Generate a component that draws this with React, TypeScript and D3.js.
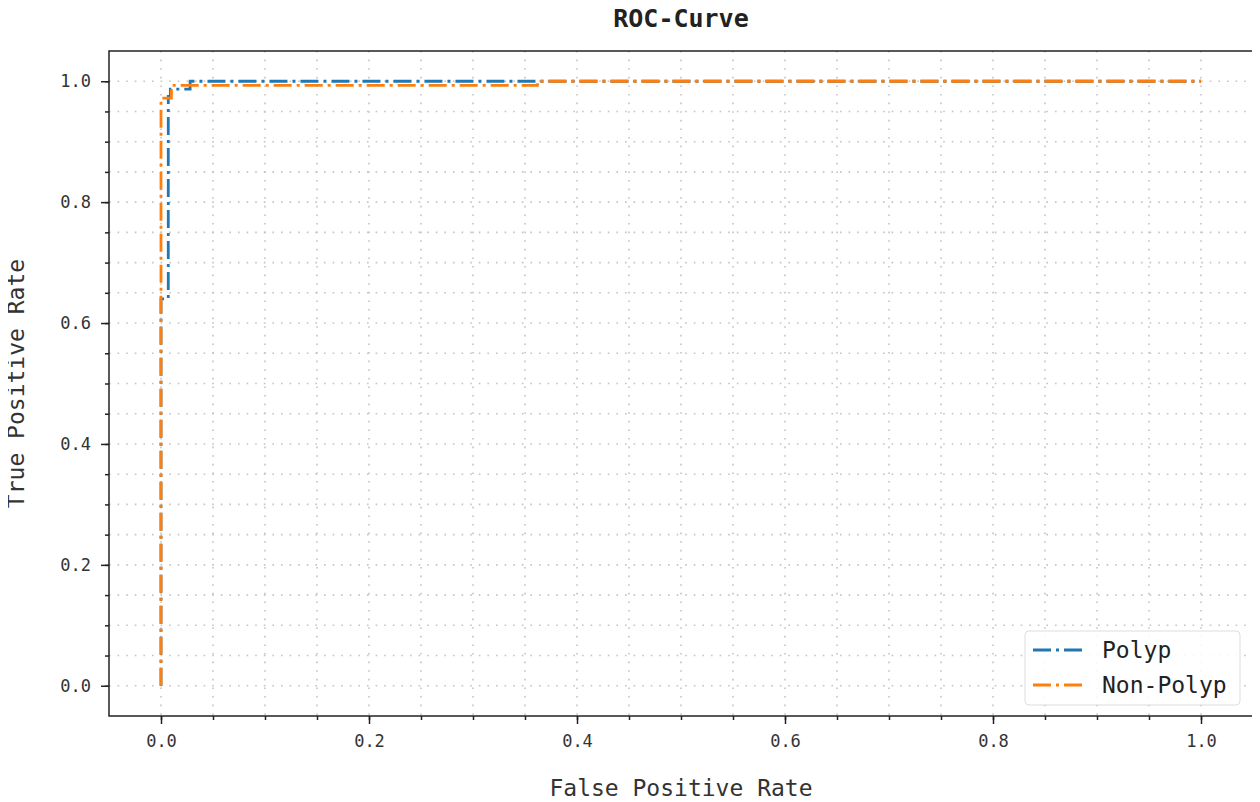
import React, { useEffect, useRef } from 'react';
import * as d3 from 'd3';

// ROC points
const polypFpr = [0, 0, 0.007, 0.007, 0.009, 0.009, 0.028, 0.028, 1];
const polypTpr = [0, 0.64, 0.64, 0.975, 0.975, 0.987, 0.987, 1, 1];
const nonPolypFpr = [0, 0, 0.01, 0.01, 0.362, 0.362, 1];
const nonPolypTpr = [0, 0.972, 0.972, 0.993, 0.993, 1, 1];

const majorTicks = [0, 0.2, 0.4, 0.6, 0.8, 1.0];
const minorTicks = d3.range(0, 1.001, 0.05).map(v => +v.toFixed(2));

const seriesNames = ['Polyp', 'Non-Polyp'];
const seriesColors = ['#1f77b4', '#ff7f0e'];

const FONT = '"DejaVu Sans Mono", "Liberation Mono", monospace';

const App = () => {
  const ref = useRef<SVGSVGElement>(null);

  useEffect(() => {
    const svg = d3.select(ref.current);
    svg.selectAll('*').remove();

    const W = 1260, H = 802;
    const box = { left: 109, right: 1253, top: 51, bottom: 716 };

    const x = d3.scaleLinear().domain([-0.05, 1.05]).range([box.left, box.right]);
    const y = d3.scaleLinear().domain([-0.05, 1.05]).range([box.bottom, box.top]);

    svg.attr('width', W).attr('height', H);
    svg.append('rect').attr('width', W).attr('height', H).attr('fill', '#fff');

    // grid (major + minor, dotted)
    const grid = svg.append('g')
      .attr('stroke', '#c4c4c4')
      .attr('stroke-width', 1.6)
      .attr('stroke-dasharray', '1.6,7');
    minorTicks.forEach(v => {
      grid.append('line').attr('x1', x(v)).attr('x2', x(v)).attr('y1', box.top).attr('y2', box.bottom);
      grid.append('line').attr('y1', y(v)).attr('y2', y(v)).attr('x1', box.left).attr('x2', box.right);
    });

    // curves
    const line = d3.line<[number, number]>().x(d => x(d[0])).y(d => y(d[1]));
    const series = [
      d3.zip(polypFpr, polypTpr) as [number, number][],
      d3.zip(nonPolypFpr, nonPolypTpr) as [number, number][],
    ];
    series.forEach((pts, i) => {
      svg.append('path')
        .attr('d', line(pts))
        .attr('fill', 'none')
        .attr('stroke', seriesColors[i])
        .attr('stroke-width', 2.8)
        .attr('stroke-dasharray', '18,5,3,5');
    });

    // axes: minor ticks, then major ticks with labels
    const xMin = svg.append('g').attr('transform', `translate(0,${box.bottom})`)
      .call(d3.axisBottom(x).tickValues(minorTicks).tickSize(4).tickFormat(() => ''));
    xMin.select('.domain').remove();
    const xMaj = svg.append('g').attr('transform', `translate(0,${box.bottom})`)
      .call(d3.axisBottom(x).tickValues(majorTicks).tickSize(8).tickPadding(11).tickFormat(d3.format('.1f')));
    xMaj.select('.domain').remove();

    const yMin = svg.append('g').attr('transform', `translate(${box.left},0)`)
      .call(d3.axisLeft(y).tickValues(minorTicks).tickSize(4).tickFormat(() => ''));
    yMin.select('.domain').remove();
    const yMaj = svg.append('g').attr('transform', `translate(${box.left},0)`)
      .call(d3.axisLeft(y).tickValues(majorTicks).tickSize(8).tickPadding(10).tickFormat(d3.format('.1f')));
    yMaj.select('.domain').remove();

    svg.selectAll('.tick line').attr('stroke', '#222').attr('stroke-width', 1.5);
    svg.selectAll('.tick text')
      .attr('font-family', FONT)
      .attr('font-size', 17)
      .attr('fill', '#333');

    // frame
    svg.append('rect')
      .attr('x', box.left).attr('y', box.top)
      .attr('width', box.right - box.left).attr('height', box.bottom - box.top)
      .attr('fill', 'none').attr('stroke', '#222').attr('stroke-width', 1.5);

    // titles
    svg.append('text')
      .attr('x', (box.left + box.right) / 2).attr('y', 27)
      .attr('text-anchor', 'middle')
      .attr('font-family', FONT).attr('font-size', 25).attr('font-weight', 'bold')
      .attr('fill', '#222')
      .text('ROC-Curve');

    svg.append('text')
      .attr('x', (box.left + box.right) / 2).attr('y', 796)
      .attr('text-anchor', 'middle')
      .attr('font-family', FONT).attr('font-size', 23)
      .attr('fill', '#333')
      .text('False Positive Rate');

    svg.append('text')
      .attr('transform', `translate(24,${(box.top + box.bottom) / 2}) rotate(-90)`)
      .attr('text-anchor', 'middle')
      .attr('font-family', FONT).attr('font-size', 23)
      .attr('fill', '#333')
      .text('True Positive Rate');

    // legend
    const lg = svg.append('g').attr('transform', 'translate(1025,631)');
    lg.append('rect')
      .attr('width', 215).attr('height', 74).attr('rx', 4)
      .attr('fill', 'rgba(255,255,255,0.85)')
      .attr('stroke', '#ddd').attr('stroke-width', 1);
    seriesNames.forEach((name, i) => {
      const cy = 19 + i * 35;
      lg.append('line')
        .attr('x1', 8).attr('x2', 58).attr('y1', cy).attr('y2', cy)
        .attr('stroke', seriesColors[i]).attr('stroke-width', 2.8)
        .attr('stroke-dasharray', '18,5,3,5');
      lg.append('text')
        .attr('x', 77).attr('y', cy)
        .attr('dy', '0.35em')
        .attr('font-family', FONT).attr('font-size', 23)
        .attr('fill', '#222')
        .text(name);
    });
  }, []);

  return <svg ref={ref} style={{ display: 'block', marginLeft: -8, marginTop: -8 }} />;
};

export default App;
